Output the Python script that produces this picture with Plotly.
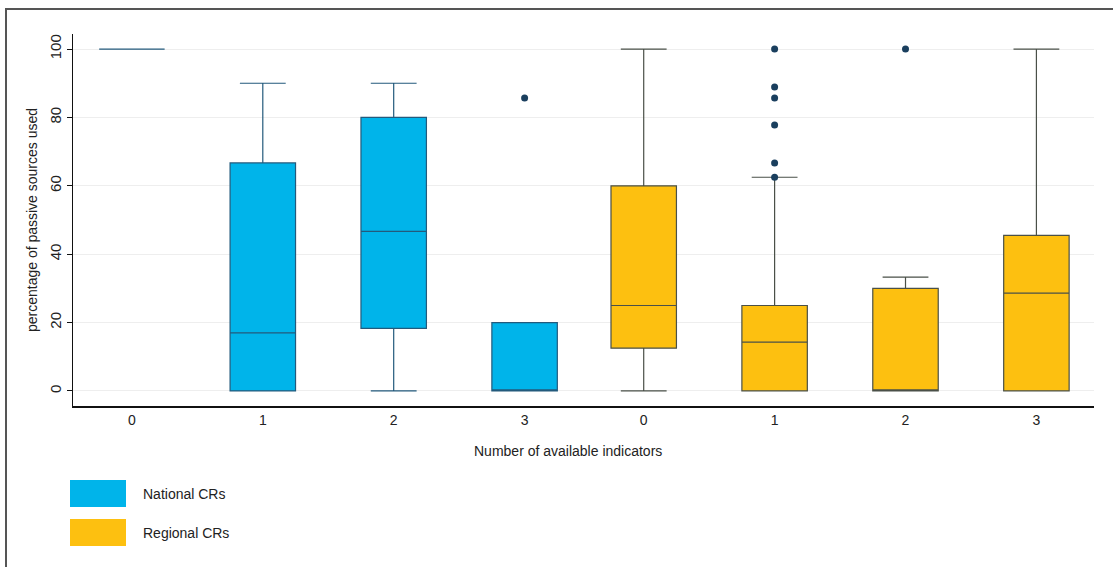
import plotly.graph_objects as go

# ---- data ----
categories = ["0", "1", "2", "3"]

national_q1 = [100, 0, 18.3, 0]
national_median = [100, 17, 46.7, 0]
national_q3 = [100, 66.7, 80, 20]
national_lower = [100, 0, 0, 0]
national_upper = [100, 90, 90, 20]

regional_q1 = [12.5, 0, 0, 0]
regional_median = [25, 14.3, 0, 28.6]
regional_q3 = [60, 25, 30, 45.5]
regional_lower = [0, 0, 0, 0]
regional_upper = [100, 62.5, 33.3, 100]

national_outlier_cat = ["3"]
national_outlier_val = [85.7]
regional_outlier_cat = ["1", "1", "1", "1", "1", "1", "2"]
regional_outlier_val = [62.5, 66.7, 77.8, 85.7, 88.9, 100, 100]

series_names = ["National CRs", "Regional CRs"]

# ---- styling / layout constants ----
NAT_COLOR = "#00b4ea"
REG_COLOR = "#fdc010"
NAT_LINE = "#235a7c"
REG_LINE = "#4a5048"
DOT_COLOR = "#1a3f5e"
FONT = "Liberation Sans, Arial, sans-serif"
GROUP_GAP = 0.91  # extra spacing between the two groups

nat_x = [i for i in range(len(categories))]
reg_x = [len(categories) - 1 + GROUP_GAP + i for i in range(len(categories))]
cat_index = {c: i for i, c in enumerate(categories)}

fig = go.Figure()

fig.add_trace(go.Box(
    x=nat_x, q1=national_q1, median=national_median, q3=national_q3,
    lowerfence=national_lower, upperfence=national_upper,
    fillcolor=NAT_COLOR, line=dict(color=NAT_LINE, width=1.2),
    width=0.5, whiskerwidth=0.7, boxpoints=False, showlegend=False,
    name=series_names[0], hoverinfo="skip"))

fig.add_trace(go.Box(
    x=reg_x, q1=regional_q1, median=regional_median, q3=regional_q3,
    lowerfence=regional_lower, upperfence=regional_upper,
    fillcolor=REG_COLOR, line=dict(color=REG_LINE, width=1.2),
    width=0.5, whiskerwidth=0.7, boxpoints=False, showlegend=False,
    name=series_names[1], hoverinfo="skip"))

fig.add_trace(go.Scatter(
    x=[nat_x[cat_index[c]] for c in national_outlier_cat] +
      [reg_x[cat_index[c]] for c in regional_outlier_cat],
    y=national_outlier_val + regional_outlier_val,
    mode="markers", marker=dict(color=DOT_COLOR, size=7),
    showlegend=False, hoverinfo="skip"))

W, H = 1113, 567
ml, mr, mt, mb = 73, 19, 34, 161
pw, ph = W - ml - mr, H - mt - mb

def px_x(px):
    return (px - ml) / pw

def px_y(py):
    return (H - mb - py) / ph

fig.update_layout(
    width=W, height=H,
    margin=dict(l=ml, r=mr, t=mt, b=mb),
    paper_bgcolor="white", plot_bgcolor="white",
    font=dict(family=FONT, size=14, color="#222222"),
    boxmode="overlay",
    xaxis=dict(
        range=[-0.45, reg_x[-1] + 0.44],
        tickvals=nat_x + reg_x, ticktext=categories + categories,
        showgrid=False, zeroline=False, showline=True,
        linecolor="#111111", linewidth=1.5, ticks="",
        tickfont=dict(size=14),
    ),
    yaxis=dict(
        range=[-4.4, 104.4],
        tickvals=[0, 20, 40, 60, 80, 100], tickangle=-90,
        showgrid=True, gridcolor="#eeeeee", gridwidth=1,
        zeroline=False, showline=True, linecolor="#111111", linewidth=1,
        ticks="outside", ticklen=5, tickcolor="#111111",
        tickfont=dict(size=15),
        title=dict(text="percentage of passive sources used", standoff=6,
                   font=dict(size=14)),
    ),
)

# x-axis title
fig.add_annotation(x=px_x(568), y=px_y(451), xref="paper", yref="paper",
                   text="Number of available indicators", showarrow=False,
                   font=dict(size=14), xanchor="center", yanchor="middle")

# manual legend
legend_rows = [(480, 507, NAT_COLOR, series_names[0]),
               (519, 546, REG_COLOR, series_names[1])]
for y0, y1, col, label in legend_rows:
    fig.add_shape(type="rect", xref="paper", yref="paper",
                  x0=px_x(70), x1=px_x(126), y0=px_y(y1), y1=px_y(y0),
                  fillcolor=col, line=dict(width=0))
    fig.add_annotation(x=px_x(141), y=px_y((y0 + y1) / 2), xref="paper",
                       yref="paper", text=label, showarrow=False,
                       xanchor="left", yanchor="middle", font=dict(size=14))

# outer frame
fig.add_shape(type="rect", xref="paper", yref="paper",
              x0=px_x(6), x1=px_x(W + 20), y0=px_y(H + 20), y1=px_y(9),
              line=dict(color="#555555", width=2), fillcolor="rgba(0,0,0,0)",
              layer="below")

fig.write_html("out.html", config={"displayModeBar": False},
               post_script="document.body.style.margin='0';")
